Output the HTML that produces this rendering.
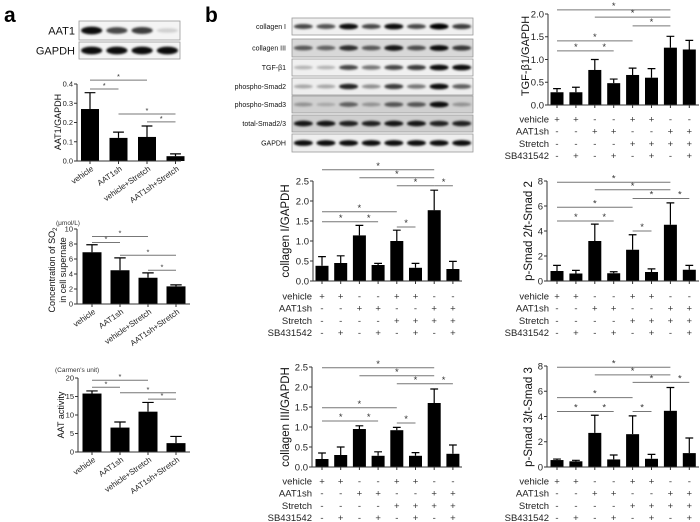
<!DOCTYPE html>
<html><head><meta charset="utf-8">
<style>
html,body{margin:0;padding:0;background:#fff;}
svg{display:block;font-family:"Liberation Sans",Arial,sans-serif;}
</style></head>
<body>
<svg id="fig" width="700" height="522" viewBox="0 0 700 522" xmlns="http://www.w3.org/2000/svg">
<defs><filter id="blur" x="-20%" y="-50%" width="140%" height="200%"><feGaussianBlur stdDeviation="1.0"/></filter></defs>
<text x="4" y="22" font-size="21" font-weight="bold">a</text>
<text x="205" y="22" font-size="21" font-weight="bold">b</text>
</svg>
<script>
// ---------- data ----------
const aGroups = ["vehicle","AAT1sh","vehicle+Stretch","AAT1sh+Stretch"];
const aat1Values = [0.27,0.12,0.125,0.025];
const aat1Errors = [0.085,0.03,0.057,0.012];
const aat1Ticks = [0,0.1,0.2,0.3,0.4];
const so2Values = [6.9,4.5,3.5,2.35];
const so2Errors = [1.0,1.65,0.65,0.2];
const so2Ticks = [0,2,4,6,8,10];
const aatActValues = [15.8,6.6,10.9,2.4];
const aatActErrors = [0.7,1.5,2.5,1.8];
const aatActTicks = [0,5,10,15,20];

const bRowNames = ["vehicle","AAT1sh","Stretch","SB431542"];
const bRowSigns = [["+","+","-","-","+","+","-","-"],["-","-","+","+","-","-","+","+"],["-","-","-","-","+","+","+","+"],["-","+","-","+","-","+","-","+"]];
const col1Values = [0.38,0.45,1.14,0.40,1.0,0.33,1.77,0.30];
const col1Errors = [0.23,0.18,0.25,0.04,0.27,0.11,0.5,0.19];
const col3Values = [0.2,0.3,0.95,0.28,0.92,0.28,1.6,0.33];
const col3Errors = [0.15,0.2,0.08,0.1,0.07,0.08,0.35,0.22];
const tgfValues = [0.28,0.28,0.77,0.48,0.66,0.60,1.26,1.22];
const tgfErrors = [0.08,0.11,0.23,0.09,0.15,0.2,0.25,0.2];
const ps2Values = [0.8,0.6,3.2,0.62,2.5,0.72,4.5,0.9];
const ps2Errors = [0.45,0.25,1.35,0.12,1.2,0.25,1.75,0.35];
const ps3Values = [0.55,0.45,2.7,0.6,2.6,0.65,4.45,1.1];
const ps3Errors = [0.08,0.08,1.4,0.35,1.45,0.35,1.85,1.2];
const colTicks = [0,0.5,1.0,1.5,2.0,2.5];
const tgfTicks = [0,0.5,1.0,1.5,2.0];
const smadTicks = [0,2,4,6,8];

const NS="http://www.w3.org/2000/svg";
const svg=document.getElementById('fig');
function mk(tag,attrs,parent){const e=document.createElementNS(NS,tag);for(const k in attrs)e.setAttribute(k,attrs[k]);(parent||svg).appendChild(e);return e;}

function chart(o){
  const g=mk('g',{});
  
  
  const n=o.values.length;
  const ymax=o.ticks[o.ticks.length-1];
  const y=v=>o.y0-(v/ymax)*(o.y0-o.yTop);
  const x=i=>o.cx0+i*o.step;
  o.values.forEach((v,i)=>{
    const b=mk('rect',{x:x(i)-o.bw/2,y:y(v),width:o.bw,height:o.y0-y(v),fill:'#000'},g);
    
    
    const ey=y(v+o.errors[i]);
    const e=mk('path',{d:`M${x(i)} ${y(v)}V${ey}M${x(i)-o.bw*0.3} ${ey}H${x(i)+o.bw*0.3}`,stroke:'#000','stroke-width':1.2,fill:'none'},g);
    
    
  });
  const ax=mk('path',{d:`M${o.ax} ${o.yTop}V${o.y0}H${o.axEnd}`,stroke:'#333','stroke-width':1,fill:'none'},g);
  
  
  o.ticks.forEach(t=>{
    mk('path',{d:`M${o.ax-3} ${y(t)}H${o.ax}`,stroke:'#333'},g);
    const tl=mk('text',{x:o.ax-4,y:y(t)+o.fs*0.35,'font-size':o.fs,'text-anchor':'end',fill:'#222'},g);
    tl.textContent=o.fmt?t.toFixed(1):String(t);
    
    
  });
  for(let i=0;i<n;i++) mk('path',{d:`M${x(i)} ${o.y0}v3`,stroke:'#333'},g);
  o.ylab.forEach((l,k)=>{
    const t=mk('text',{transform:`translate(${l.x},${o.labY}) rotate(-90)`,'font-size':o.lfs,'text-anchor':'middle',fill:'#111'},g);
    t.innerHTML=l.t;
    
    
  });
  o.sig.forEach(s=>{
    const yy=y(s[2]);
    const l=mk('path',{d:`M${x(s[0])} ${yy}H${x(s[1])}`,stroke:'#777','stroke-width':1},g);
    
    
    const st=mk('text',{x:(x(s[0])+x(s[1]))/2,y:yy-1,'font-size':o.fs,'text-anchor':'middle',fill:'#333'},g);
    st.textContent='*';
    
    
  });
  if(o.groups){
    o.groups.forEach((gname,i)=>{
      const t=mk('text',{transform:`translate(${x(i)+4},${o.y0+9}) rotate(-35)`,'font-size':o.fs+0.5,'text-anchor':'end',fill:'#222'},g);
      t.textContent=gname;
      
      
    });
  }
  if(o.rows){
    o.rows.forEach((r,k)=>{
      const ry=o.rowY0+k*12.2;
      const t=mk('text',{x:o.rowLabX,y:ry+3.5,'font-size':9.5,'text-anchor':'end',fill:'#222'},g);
      t.textContent=r;
      
      
      bRowSigns[k].forEach((s,i)=>{
        const st=mk('text',{x:x(i),y:ry+3.5,'font-size':9.5,'text-anchor':'middle',fill:'#333'},g);
        st.textContent=s;
        
        
      });
    });
  }
}

chart({name:'aat1-gapdh-chart',values:aat1Values,errors:aat1Errors,ticks:aat1Ticks,fmt:true,y0:161,yTop:84,ax:77,axEnd:181,cx0:90,step:28.5,bw:18,fs:7.5,lfs:9,labY:122,ylab:[{x:61,t:'AAT1/GAPDH'}],groups:aGroups,
  sig:[[0,2,0.42],[0,1,0.374],[1,3,0.244],[2,3,0.203]]});
chart({name:'so2-chart',values:so2Values,errors:so2Errors,ticks:so2Ticks,y0:304,yTop:229,ax:77,axEnd:190,cx0:92,step:28,bw:19,fs:7.5,lfs:9,labY:270,ylab:[{x:55,t:'Concentration of SO<tspan font-size="6" dy="2">2</tspan>'},{x:66,t:'in cell supernate'}],groups:aGroups,
  sig:[[0,2,9.0],[0,1,8.2],[1,3,6.5],[2,3,4.5]]});
chart({name:'aat-activity-chart',values:aatActValues,errors:aatActErrors,ticks:aatActTicks,y0:452,yTop:378,ax:78,axEnd:190,cx0:92,step:28,bw:19,fs:7.5,lfs:9,labY:415,ylab:[{x:64,t:'AAT activity'}],groups:aGroups,
  sig:[[0,2,19.4],[0,1,17.5],[1,3,16],[2,3,14.3]]});
[['(μmol/L)',56,225,'so2-unit'],["(Carmen's unit)",55,372,'aat-activity-unit']].forEach(u=>{
  const t=mk('text',{x:u[1],y:u[2],'font-size':6.5,fill:'#333'});t.textContent=u[0];
  
  
});

chart({name:'collagen-i-chart',values:col1Values,errors:col1Errors,ticks:colTicks,fmt:true,y0:281,yTop:181,ax:313,axEnd:462,cx0:322,step:18.7,bw:13,fs:9.5,lfs:11.5,labY:231,ylab:[{x:289,t:'collagen I/GAPDH'}],rows:bRowNames,rowY0:296,rowLabX:312,
  sig:[[0,6,2.78],[2,6,2.58],[4,6,2.38],[6,7,2.38],[0,4,1.73],[0,2,1.48],[2,3,1.48],[4,5,1.35]]});
chart({name:'collagen-iii-chart',values:col3Values,errors:col3Errors,ticks:colTicks,fmt:true,y0:467,yTop:367,ax:312,axEnd:462,cx0:322,step:18.7,bw:13,fs:9.5,lfs:11.5,labY:417,ylab:[{x:289,t:'collagen III/GAPDH'}],rows:bRowNames,rowY0:481,rowLabX:312,
  sig:[[0,6,2.48],[2,6,2.28],[4,6,2.08],[6,7,2.08],[0,4,1.48],[0,2,1.15],[2,3,1.15],[4,5,1.1]]});
chart({name:'tgf-beta1-chart',values:tgfValues,errors:tgfErrors,ticks:tgfTicks,fmt:true,y0:105,yTop:14,ax:548,axEnd:699,cx0:557,step:18.9,bw:13,fs:9.5,lfs:11,labY:56,ylab:[{x:529,t:'TGF-β1/GAPDH'}],rows:bRowNames,rowY0:119,rowLabX:549,
  sig:[[0,6,2.09],[2,6,1.93],[4,6,1.74],[0,4,1.41],[0,2,1.19],[2,3,1.19]]});
chart({name:'p-smad2-chart',values:ps2Values,errors:ps2Errors,ticks:smadTicks,y0:281,yTop:181,ax:547,axEnd:699,cx0:557,step:18.9,bw:13,fs:9.5,lfs:11.5,labY:231,ylab:[{x:532,t:'p-Smad 2/t-Smad 2'}],rows:bRowNames,rowY0:296,rowLabX:549,
  sig:[[0,6,7.9],[2,6,7.3],[4,6,6.6],[6,7,6.6],[0,4,5.9],[0,2,4.8],[2,3,4.8],[4,5,4.0]]});
chart({name:'p-smad3-chart',values:ps3Values,errors:ps3Errors,ticks:smadTicks,y0:467,yTop:366,ax:547,axEnd:699,cx0:557,step:18.9,bw:13,fs:9.5,lfs:11.5,labY:417,ylab:[{x:532,t:'p-Smad 3/t-Smad 3'}],rows:bRowNames,rowY0:481,rowLabX:549,
  sig:[[0,6,7.9],[2,6,7.3],[4,6,6.7],[6,7,6.7],[0,4,5.5],[0,2,4.4],[2,3,4.4],[4,5,4.4]]});

function blot(name,label,bx,by,bw,bh,lanes,intens,bg,labX,fs,bandH){
  const g=mk('g',{});
  
  
  mk('rect',{x:bx,y:by,width:bw,height:bh,fill:bg,stroke:'#999','stroke-width':0.8},g);
  const lw=bw/lanes;
  intens.forEach((v,i)=>{
    mk('ellipse',{cx:bx+lw*(i+0.5),cy:by+bh/2,rx:lw*0.42,ry:bandH*(0.5+v*0.5),fill:'#000','fill-opacity':v,filter:'url(#blur)'},g);
  });
  const t=mk('text',{x:labX,y:by+bh/2+fs*0.35,'font-size':fs,'text-anchor':'end',fill:'#111'},g);
  t.textContent=label;
  
  
}
blot('aat1-blot','AAT1',79,21,101,19,4,[0.95,0.7,0.75,0.15],'#f4f4f4',75,11,4);
blot('gapdh-blot-a','GAPDH',79,42,101,17,4,[0.95,0.95,0.95,0.95],'#f4f4f4',75,11,4);
const bRows=[['collagen I',18,[0.7,0.65,0.95,0.7,0.95,0.7,1,0.75],'#f0f0f0'],
 ['collagen III',39,[0.6,0.55,0.8,0.6,0.9,0.65,0.95,0.75],'#d8d8d8'],
 ['TGF-β1',59,[0.25,0.25,0.7,0.5,0.7,0.75,0.95,0.95],'#f0f0f0'],
 ['phospho-Smad2',78,[0.3,0.3,0.85,0.4,0.75,0.5,0.95,0.6],'#eeeeee'],
 ['phospho-Smad3',96,[0.3,0.2,0.55,0.3,0.6,0.6,0.95,0.3],'#d0d0d0'],
 ['total-Smad2/3',115,[0.9,0.9,0.85,0.85,0.9,0.9,0.85,0.85],'#cfcfcf'],
 ['GAPDH',134,[0.95,0.95,0.95,0.95,0.95,0.95,0.95,0.95],'#eeeeee']];
bRows.forEach(r=>blot('blot-'+r[0].toLowerCase().replace(/[^a-z0-9]+/g,'-'),r[0],292,r[1],181,r[0]==='collagen III'||r[0]==='GAPDH'?18:17,8,r[2],r[3],286,7,3));
</script>
</body></html>
